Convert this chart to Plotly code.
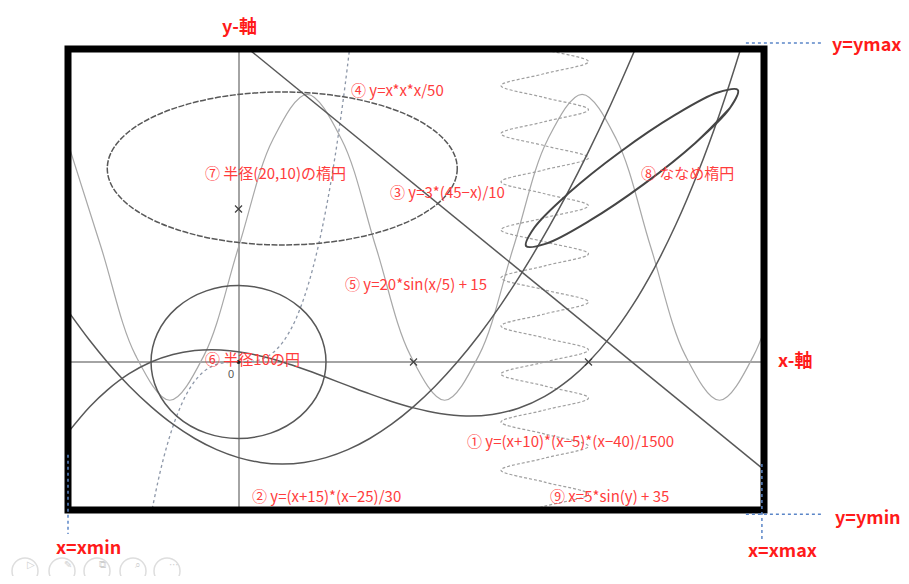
import plotly.graph_objects as go

# (1) y=(x+10)*(x-5)*(x-40)/1500, points
c1_x = [-19.5, -17, -15, -12.5, -10, -7.5, -5, -3, -1, 1, 3, 5, 7.5, 10, 12.5, 15, 17.5, 20,
        23, 26, 29, 32, 35, 38, 40, 42.5, 45, 47.5, 50, 52.5, 55, 57.5, 59]
c1_y = [-9.23, -5.85, -3.67, -1.53, 0, 0.99, 1.5, 1.61, 1.48, 1.14, 0.64, 0, -0.95, -2, -3.09,
        -4.17, -5.16, -6, -6.73, -7.06, -6.86, -6.05, -4.5, -2.11, 0, 3.28, 7.33, 12.22, 18,
        24.74, 32.5, 41.34, 47.2]

# (2) y=(x+15)*(x-25)/30
c2_x = [-19.5, -17, -15, -12.5, -10, -7.5, -5, -2.5, 0, 2.5, 5, 7.5, 10, 12.5, 15, 17.5, 20,
        22.5, 25, 27.5, 30, 32.5, 35, 37.5, 40, 42.5, 45, 47]
c2_y = [6.68, 2.8, 0, -3.13, -5.83, -8.13, -10, -11.46, -12.5, -13.13, -13.33, -13.13, -12.5,
        -11.46, -10, -8.13, -5.83, -3.13, 0, 3.54, 7.5, 11.88, 16.67, 21.88, 27.5, 33.54, 40, 45.47]

# (3) straight line
c3_x = [0, 45, 62]
c3_y = [42, 0, -15.9]

# (4) y=x*x*x/50
c4_x = [-10, -9, -8, -7, -6, -5, -4, -3, -2, 0, 2, 3, 4, 5, 6, 7, 8, 9, 10, 11, 12, 13]
c4_y = [-20, -14.58, -10.24, -6.86, -4.32, -2.5, -1.28, -0.54, -0.16, 0, 0.16, 0.54, 1.28,
        2.5, 4.32, 6.86, 10.24, 14.58, 20, 26.62, 34.56, 43.94]

# (5) y=20*sin(x/5)+15
c5_x = [-19.63, -15.71, -11.78, -7.85, -3.93, 0, 3.93, 7.85, 11.78, 15.71, 19.63, 23.56,
        27.49, 31.42, 35.34, 39.27, 43.2, 47.12, 51.05, 54.98, 58.9, 62.83]
c5_y = [29.1, 15, 0.9, -5, 0.9, 15, 29.1, 35, 29.1, 15, 0.9, -5, 0.9, 15, 29.1, 35, 29.1,
        15, 0.9, -5, 0.9, 15]

# (9) x=5*sin(y)+35
c9_y = [-20.42, -18.85, -17.28, -15.71, -14.14, -12.57, -11.0, -9.42, -7.85, -6.28, -4.71,
        -3.14, -1.57, 0, 1.57, 3.14, 4.71, 6.28, 7.85, 9.42, 11.0, 12.57, 14.14, 15.71, 17.28,
        18.85, 20.42, 21.99, 23.56, 25.13, 26.7, 28.27, 29.85, 31.42, 32.99, 34.56, 36.13,
        37.7, 39.27, 40.84, 42.41]
c9_x = [30, 35, 40, 35, 30, 35, 40, 35, 30, 35, 40, 35, 30, 35, 40, 35, 30, 35, 40, 35, 30,
        35, 40, 35, 30, 35, 40, 35, 30, 35, 40, 35, 30, 35, 40, 35, 30, 35, 40, 35, 30]

# (8) slanted ellipse, outline points
c8_x = [52.21, 56.13, 57.07, 54.78, 49.85, 43.61, 37.74, 33.82, 32.87, 35.17, 40.09, 46.33, 52.21, 56.13]
c8_y = [28.64, 33.14, 35.56, 35.23, 32.27, 27.46, 22.08, 17.58, 15.16, 15.48, 18.44, 23.25, 28.64, 33.14]

# (6) circle and (7) ellipse: centre x, centre y, radius x, radius y
ell_cx = [0, 5]
ell_cy = [0, 25.3]
ell_rx = [10, 20]
ell_ry = [10, 10]
ell_dash = ["solid", "6px,1.5px"]

mark_x = [0, 20, 40]
mark_y = [20, 0, 0]

labels = ["④ y=x*x*x/50", "⑦ 半径(20,10)の楕円", "③ y=3*(45−x)/10", "⑧ ななめ楕円",
          "⑤ y=20*sin(x/5) + 15", "⑥ 半径10の円", "① y=(x+10)*(x−5)*(x−40)/1500",
          "② y=(x+15)*(x−25)/30", "⑨ x=5*sin(y) + 35"]
label_x = [12.6, -4.1, 17.1, 45.8, 11.9, -4.1, 25.9, 1.3, 35.4]
label_y = [35.6, 24.8, 22.3, 24.8, 10.3, 0.5, -10.3, -17.5, -17.5]

XR = [-19.49, 60.06]
YR = [-19.35, 40.92]

DARK = "#585858"
fig = go.Figure()

fig.add_trace(go.Scatter(x=c5_x, y=c5_y, mode="lines", line=dict(color="#a8a8a8", width=1.2, shape="spline")))
fig.add_trace(go.Scatter(x=c9_x, y=c9_y, mode="lines", line=dict(color="#a0a0a0", width=1.2, shape="spline", dash="3px,2px")))
fig.add_trace(go.Scatter(x=c4_x, y=c4_y, mode="lines", line=dict(color="#8d97a8", width=1.3, shape="spline", dash="dot")))
fig.add_trace(go.Scatter(x=c1_x, y=c1_y, mode="lines", line=dict(color=DARK, width=1.5, shape="spline")))
fig.add_trace(go.Scatter(x=c2_x, y=c2_y, mode="lines", line=dict(color=DARK, width=1.5, shape="spline")))
fig.add_trace(go.Scatter(x=c3_x, y=c3_y, mode="lines", line=dict(color=DARK, width=1.5)))
fig.add_trace(go.Scatter(x=c8_x, y=c8_y, mode="lines", line=dict(color="#454545", width=2, shape="spline")))
fig.add_trace(go.Scatter(x=mark_x, y=mark_y, mode="markers",
                         marker=dict(symbol="x-thin", size=7, line=dict(color="#404040", width=1.2))))
fig.add_trace(go.Scatter(x=[0], y=[0], mode="markers", marker=dict(color="#222", size=4)))

for cx, cy, rx, ry, d in zip(ell_cx, ell_cy, ell_rx, ell_ry, ell_dash):
    fig.add_shape(type="circle", xref="x", yref="y", x0=cx - rx, x1=cx + rx, y0=cy - ry, y1=cy + ry,
                  line=dict(color=DARK, width=1.5, dash=d))

# thick frame
fig.add_shape(type="rect", xref="paper", yref="paper", x0=0, x1=1, y0=0, y1=1,
              line=dict(color="black", width=7))

# blue dotted guides
guides = [(0.974, 1.013, 1.082, 1.013), (0.974, -0.009, 1.082, -0.009),
          (0.997, 0.10, 0.997, -0.063), (0.0, 0.12, 0.0, -0.052)]
for gx0, gy0, gx1, gy1 in guides:
    fig.add_shape(type="line", xref="paper", yref="paper", x0=gx0, y0=gy0, x1=gx1, y1=gy1,
                  line=dict(color="#5b86c8", width=1.5, dash="dot"))

for t, x, y in zip(labels, label_x, label_y):
    fig.add_annotation(x=x, y=y, text=t, showarrow=False, xanchor="left", yanchor="middle",
                       font=dict(family="Noto Sans CJK JP", size=15, color="#ff3c3c"))

fig.add_annotation(x=-0.9, y=-1.6, text="0", showarrow=False,
                   font=dict(family="Liberation Sans", size=11, color="#555"))

outer = [("y-軸", 0.247, 1.052, "center"), ("y=ymax", 1.2, 1.013, "right"),
         ("x-軸", 1.045, 0.328, "center"), ("y=ymin", 1.2, -0.013, "right"),
         ("x=xmin", 0.030, -0.078, "center"), ("x=xmax", 1.026, -0.085, "center")]
for t, x, y, xa in outer:
    fig.add_annotation(xref="paper", yref="paper", x=x, y=y, text="<b>" + t + "</b>", showarrow=False,
                       xanchor=xa, yanchor="middle",
                       font=dict(family="Noto Sans CJK JP", size=18, color="#ff1a1a"))

# faint slideshow controls in the corner
for i, g in enumerate(["▷", "✎", "⧉", "⌕", "⋯"]):
    cx = [25, 62, 97, 133, 167][i]
    fig.add_shape(type="circle", xref="paper", yref="paper",
                  x0=(cx - 13 - 68) / 696, x1=(cx + 13 - 68) / 696,
                  y0=(510 - 584) / 461, y1=(510 - 558) / 461,
                  line=dict(color="#dedede", width=1.5))
    fig.add_annotation(xref="paper", yref="paper", x=(cx - 68) / 696, y=(510 - 572) / 461, text=g,
                       showarrow=False, font=dict(family="DejaVu Sans", size=10, color="#d0d0d0"))

# the page body has an 8px margin, so the figure is shrunk to keep the plot area in place
fig.update_layout(width=901, height=568, margin=dict(l=60, r=145, t=41, b=66, pad=0),
                  plot_bgcolor="white", paper_bgcolor="white", showlegend=False)
fig.update_xaxes(range=XR, showgrid=False, showticklabels=False, ticks="", zeroline=True,
                 zerolinecolor="#a4a4a4", zerolinewidth=2, showline=False)
fig.update_yaxes(range=YR, showgrid=False, showticklabels=False, ticks="", zeroline=True,
                 zerolinecolor="#a4a4a4", zerolinewidth=2, showline=False)

fig.write_html("out.html")
